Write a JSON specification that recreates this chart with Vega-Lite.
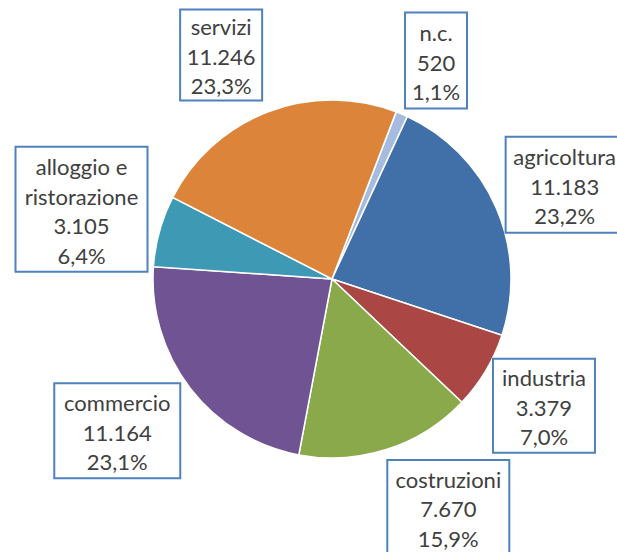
{
  "$schema": "https://vega.github.io/schema/vega-lite/v6.json",
  "width": 570,
  "height": 546,
  "autosize": {"type": "none"},
  "padding": {"left": 47, "top": 6, "right": 0, "bottom": 0},
  "background": "white",
  "config": {"view": {"stroke": null}},
  "data": {
    "values": [
      {"cat": "n.c.", "value": 520, "label": "n.c.\n520\n1,1%"},
      {"cat": "agricoltura", "value": 11183, "label": "agricoltura\n11.183\n23,2%"},
      {"cat": "industria", "value": 3379, "label": "industria\n3.379\n7,0%"},
      {"cat": "costruzioni", "value": 7670, "label": "costruzioni\n7.670\n15,9%"},
      {"cat": "commercio", "value": 11164, "label": "commercio\n11.164\n23,1%"},
      {"cat": "alloggio e ristorazione", "value": 3105, "label": "alloggio e\nristorazione\n3.105\n6,4%"},
      {"cat": "servizi", "value": 11246, "label": "servizi\n11.246\n23,3%"}
    ]
  },
  "transform": [
    {"window": [{"op": "row_number", "as": "i"}]},
    {"stack": "value", "groupby": [], "sort": [{"field": "i", "order": "ascending"}], "offset": "normalize", "as": ["s0", "s1"]},
    {"calculate": "0.3665 + PI * (datum.s0 + datum.s1) + (datum.cat == 'servizi' ? -0.094 : datum.cat == 'costruzioni' ? -0.159 : datum.cat == 'n.c.' ? 0.044 : datum.cat == 'commercio' ? 0.042 : datum.cat == 'agricoltura' ? 0.024 : 0)", "as": "a"},
    {"calculate": "datum.cat == 'n.c.' ? 242 : datum.cat == 'agricoltura' ? 251 : datum.cat == 'industria' ? 247 : datum.cat == 'commercio' ? 263 : datum.cat == 'alloggio e ristorazione' ? 260 : datum.cat == 'costruzioni' ? 256 : 250", "as": "r"},
    {"calculate": "datum.r * sin(datum.a)", "as": "lx"},
    {"calculate": "datum.r * cos(datum.a)", "as": "ly"},
    {"calculate": "datum.ly - 3 + (length(split(datum.label, '\\n')) - 1) * 14.75", "as": "ty"}
  ],
  "layer": [
    {
      "mark": {"type": "arc", "outerRadius": 179, "stroke": "white", "strokeWidth": 1.5},
      "encoding": {
        "theta": {"field": "s0", "type": "quantitative", "stack": null, "scale": {"domain": [0, 1], "range": [0.3665, 6.6497]}},
        "theta2": {"field": "s1"},
        "color": {
          "field": "cat", "type": "nominal", "legend": null,
          "scale": {
            "domain": ["n.c.", "agricoltura", "industria", "costruzioni", "commercio", "alloggio e ristorazione", "servizi"],
            "range": ["#A5BBE0", "#4170A8", "#AA4644", "#89A94B", "#705392", "#3E9AB4", "#DC843A"]
          }
        }
      }
    },
    {
      "mark": {"type": "point", "filled": true, "fill": "white", "stroke": "#4F81BD", "strokeWidth": 2, "size": 22500, "opacity": 1},
      "encoding": {
        "x": {"field": "lx", "type": "quantitative", "scale": {"domain": [-285, 285], "nice": false, "zero": false}, "axis": null},
        "y": {"field": "ly", "type": "quantitative", "scale": {"domain": [-273, 273], "nice": false, "zero": false}, "axis": null},
        "shape": {
          "field": "cat", "type": "nominal", "legend": null,
          "scale": {
            "domain": ["n.c.", "agricoltura", "industria", "costruzioni", "commercio", "alloggio e ristorazione", "servizi"],
            "range": [
              "M-0.4133,-0.64H0.4133V0.64H-0.4133Z",
              "M-0.7867,-0.64H0.7867V0.64H-0.7867Z",
              "M-0.68,-0.6267H0.68V0.6267H-0.68Z",
              "M-0.8133,-0.6267H0.8133V0.6267H-0.8133Z",
              "M-0.84,-0.6333H0.84V0.6333H-0.84Z",
              "M-0.88,-0.8333H0.88V0.8333H-0.88Z",
              "M-0.5467,-0.6067H0.5467V0.6067H-0.5467Z"
            ]
          }
        }
      }
    },
    {
      "mark": {"type": "text", "font": "Lato", "fontSize": 22, "lineHeight": 29.5, "lineBreak": "\n", "align": "center", "baseline": "middle", "color": "#404040"},
      "encoding": {
        "x": {"field": "lx", "type": "quantitative"},
        "y": {"field": "ty", "type": "quantitative"},
        "text": {"field": "label"}
      }
    }
  ]
}
